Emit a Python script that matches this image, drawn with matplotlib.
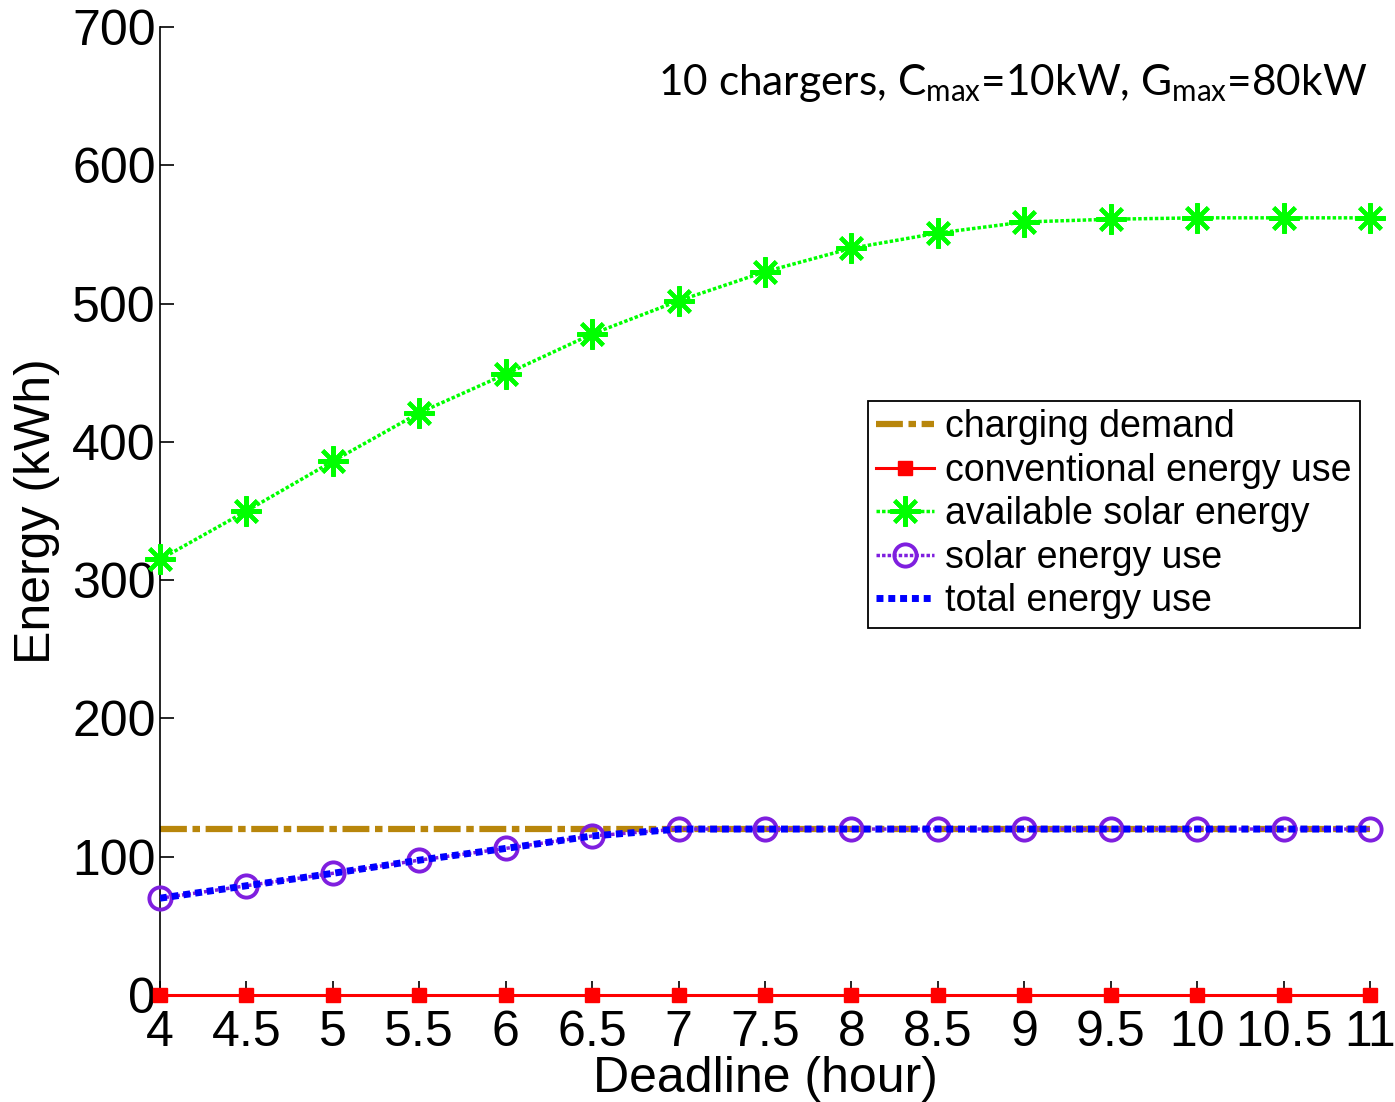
import matplotlib
matplotlib.use("Agg")
import matplotlib.pyplot as plt

deadline = [4, 4.5, 5, 5.5, 6, 6.5, 7, 7.5, 8, 8.5, 9, 9.5, 10, 10.5, 11]
xtick_labels = ["4", "4.5", "5", "5.5", "6", "6.5", "7", "7.5", "8", "8.5", "9", "9.5", "10", "10.5", "11"]
charging_demand = [120] * 15
conventional_use = [0] * 15
available_solar = [315, 350, 386, 421, 449, 478, 502, 523, 540, 551, 559, 561, 562, 562, 562]
solar_use = [70, 79, 88, 97.5, 106, 115, 120, 120, 120, 120, 120, 120, 120, 120, 120]
total_use = [70, 79, 88, 97.5, 106, 115, 120, 120, 120, 120, 120, 120, 120, 120, 120]
yticks = [0, 100, 200, 300, 400, 500, 600, 700]

plt.rcParams['font.family'] = ['Liberation Sans', 'DejaVu Sans']

fig = plt.figure(figsize=(13.95, 11.02), dpi=100)
ax = fig.add_axes([0.1147, 0.0971, 0.8674, 0.8784])

ax.plot(deadline, charging_demand, color='#b8860b', lw=4.5,
        linestyle=(0, (4.3, 0.9, 1.2, 0.9)), dash_capstyle='butt',
        label='charging demand', zorder=2)
ax.plot(deadline, conventional_use, color='#ff0000', lw=2.2, marker='s',
        ms=9.5, mfc='#ff0000', mec='#ff0000', label='conventional energy use',
        zorder=3, clip_on=False)
ax.plot(deadline, available_solar, color='#00ff00', lw=2.5,
        linestyle=(0, (1, 0.6)), marker=(8, 2, 0), ms=22, mew=3,
        mec='#00ff00', label='available solar energy', zorder=3, clip_on=False)
ax.plot(deadline, solar_use, color='#7f1fdf', lw=2.5,
        linestyle=(0, (1, 0.6)), marker='o', ms=16, mew=2.8, mfc='none',
        mec='#7f1fdf', label='solar energy use', zorder=4, clip_on=False)
ax.plot(deadline, total_use, color='#0000ff', lw=5,
        linestyle=(0, (1, 0.7)), dash_capstyle='butt',
        label='total energy use', zorder=5)

ax.set_xlim(4, 11)
ax.set_ylim(0, 700)
ax.set_xticks(deadline)
ax.set_xticklabels(xtick_labels)
ax.set_yticks(yticks)

for s in ['top', 'right']:
    ax.spines[s].set_visible(False)
for s in ['left', 'bottom']:
    ax.spines[s].set_linewidth(1.2)

ax.tick_params(axis='both', direction='in', length=10, width=1.2, labelsize=36)
ax.tick_params(axis='x', pad=11)
ax.tick_params(axis='y', pad=3)

ax.set_xlabel('Deadline (hour)', fontsize=36)
ax.set_ylabel('Energy (kWh)', fontsize=36)
ax.xaxis.set_label_coords(0.5, -0.063)
ax.yaxis.set_label_coords(-0.083, 0.5)

leg = ax.legend(loc='upper right', bbox_to_anchor=(0.9917, 0.6136),
                borderaxespad=0, fontsize=27, handlelength=1.55,
                handletextpad=0.3, labelspacing=0.2, borderpad=0.22,
                fancybox=False, framealpha=1, edgecolor='black')
leg.get_frame().set_linewidth(1.3)

ax.text(0.998, 0.93, r'10 chargers, C$_\mathregular{max}$=10kW, G$_\mathregular{max}$=80kW',
        transform=ax.transAxes, ha='right', va='baseline', fontsize=30.5,
        family=['Lato', 'DejaVu Sans'])

fig.savefig('out.png', dpi=100)
